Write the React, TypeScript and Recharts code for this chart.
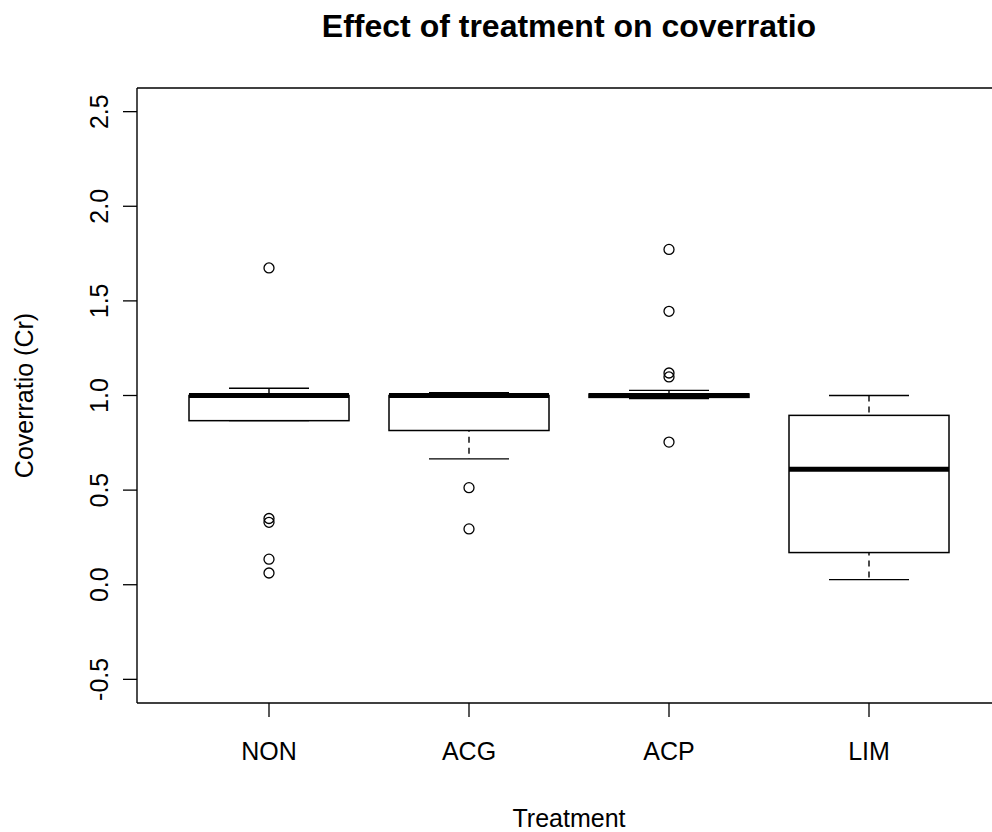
import React from 'react';
import {
  ComposedChart,
  Bar,
  Scatter,
  XAxis,
  YAxis,
} from 'recharts';

// treatment groups
const groups = ['NON', 'ACG', 'ACP', 'LIM'];

// five-number summaries
const lowerWhisker = [0.867, 0.665, 0.984, 0.027];
const lowerQuartile = [0.867, 0.815, 0.99, 0.17];
const medians = [1.0, 1.0, 1.0, 0.61];
const upperQuartile = [1.0, 1.0, 1.008, 0.895];
const upperWhisker = [1.038, 1.015, 1.027, 1.0];

// outliers per group
const outlierGroup = ['NON', 'NON', 'NON', 'NON', 'NON', 'ACG', 'ACG', 'ACP', 'ACP', 'ACP', 'ACP', 'ACP'];
const outlierValue = [1.674, 0.35, 0.33, 0.135, 0.062, 0.513, 0.295, 1.772, 1.445, 1.119, 1.098, 0.754];

const yTicks = [-0.5, 0, 0.5, 1, 1.5, 2, 2.5];
const yDomain: [number, number] = [-0.625, 2.625];

const boxData = groups.map((name, i) => ({
  name,
  lo: lowerWhisker[i],
  q1: lowerQuartile[i],
  med: medians[i],
  q3: upperQuartile[i],
  hi: upperWhisker[i],
}));

const outliers = outlierGroup.map((name, i) => ({ name, value: outlierValue[i] }));

const FONT = '"Liberation Sans", Arial, sans-serif';
const PAD = { left: 32, right: 32 };
const FRAME = { stroke: '#000', strokeWidth: 1.4 };

const Whisker = (p: any) => {
  const cx = p.x + p.width / 2;
  const cap = p.width / 4;
  return (
    <g stroke="#000" strokeWidth={1.4}>
      <line x1={cx} x2={cx} y1={p.y} y2={p.y + p.height} strokeDasharray="6 5" />
      <line x1={cx - cap} x2={cx + cap} y1={p.y} y2={p.y} />
      <line x1={cx - cap} x2={cx + cap} y1={p.y + p.height} y2={p.y + p.height} />
    </g>
  );
};

const Box = (p: any) => (
  <rect x={p.x} y={p.y} width={p.width} height={p.height} fill="#fff" stroke="#000" strokeWidth={1.5} />
);

const Median = (p: any) => (
  <line x1={p.x} x2={p.x + p.width} y1={p.y} y2={p.y} stroke="#000" strokeWidth={5} />
);

const YTick = (p: any) => (
  <text
    x={p.x}
    y={p.y}
    transform={`rotate(-90 ${p.x} ${p.y})`}
    textAnchor="middle"
    fontFamily={FONT}
    fontSize={25}
    fill="#000"
  >
    {p.payload.value.toFixed(1)}
  </text>
);

export default function App() {
  return (
    <div style={{ position: 'fixed', left: 0, top: 0, width: 992, height: 832, overflow: 'hidden', background: '#fff' }}>
      <div
        style={{
          position: 'absolute',
          left: 137,
          width: 864,
          top: 10,
          textAlign: 'center',
          fontFamily: FONT,
          fontWeight: 'bold',
          fontSize: 32,
          lineHeight: '32px',
          color: '#000',
        }}
      >
        Effect of treatment on coverratio
      </div>
      <ComposedChart
        width={1010}
        height={832}
        data={boxData}
        margin={{ top: 86, right: 9, bottom: 69, left: 0 }}
      >
        <XAxis
          dataKey="name"
          type="category"
          allowDuplicatedCategory={false}
          padding={PAD}
          height={60}
          axisLine={FRAME}
          tickLine={{ stroke: '#000', strokeWidth: 1.3 }}
          tickSize={14}
          tickMargin={25}
          tick={{ fill: '#000', fontSize: 25, fontFamily: FONT }}
          label={(props: any) => {
            const vb = props.viewBox;
            return (
              <text x={vb.x + vb.width / 2} y={827} textAnchor="middle" fontFamily={FONT} fontSize={25} fill="#000">
                Treatment
              </text>
            );
          }}
        />
        <XAxis
          xAxisId="top"
          orientation="top"
          dataKey="name"
          type="category"
          padding={PAD}
          height={2}
          axisLine={FRAME}
          tick={false}
          tickLine={false}
        />
        <XAxis xAxisId="w" dataKey="name" type="category" padding={PAD} hide />
        <XAxis xAxisId="m" dataKey="name" type="category" padding={PAD} hide />
        <YAxis
          type="number"
          domain={yDomain}
          ticks={yTicks}
          allowDataOverflow
          width={137}
          axisLine={FRAME}
          tickLine={{ stroke: '#000', strokeWidth: 1.3 }}
          tickSize={14}
          tickMargin={15}
          tick={<YTick />}
          label={(props: any) => {
            const vb = props.viewBox;
            const cy = vb.y + vb.height / 2;
            return (
              <text
                x={33}
                y={cy}
                transform={`rotate(-90 33 ${cy})`}
                textAnchor="middle"
                fontFamily={FONT}
                fontSize={25}
                fill="#000"
              >
                Coverratio (Cr)
              </text>
            );
          }}
        />
        <YAxis
          yAxisId="right"
          orientation="right"
          type="number"
          domain={yDomain}
          allowDataOverflow
          width={0}
          axisLine={FRAME}
          tick={false}
          tickLine={false}
        />
        <Bar xAxisId="w" dataKey={(d: any) => [d.lo, d.hi]} barSize={160} shape={Whisker} isAnimationActive={false} />
        <Bar dataKey={(d: any) => [d.q1, d.q3]} barSize={160} shape={Box} isAnimationActive={false} />
        <Bar xAxisId="m" dataKey={(d: any) => [d.med, d.med]} barSize={160} shape={Median} isAnimationActive={false} />
        <Scatter
          data={outliers}
          dataKey="value"
          isAnimationActive={false}
          shape={(p: any) => <circle cx={p.cx} cy={p.cy} r={5} fill="none" stroke="#000" strokeWidth={1.3} />}
        />
      </ComposedChart>
    </div>
  );
}
